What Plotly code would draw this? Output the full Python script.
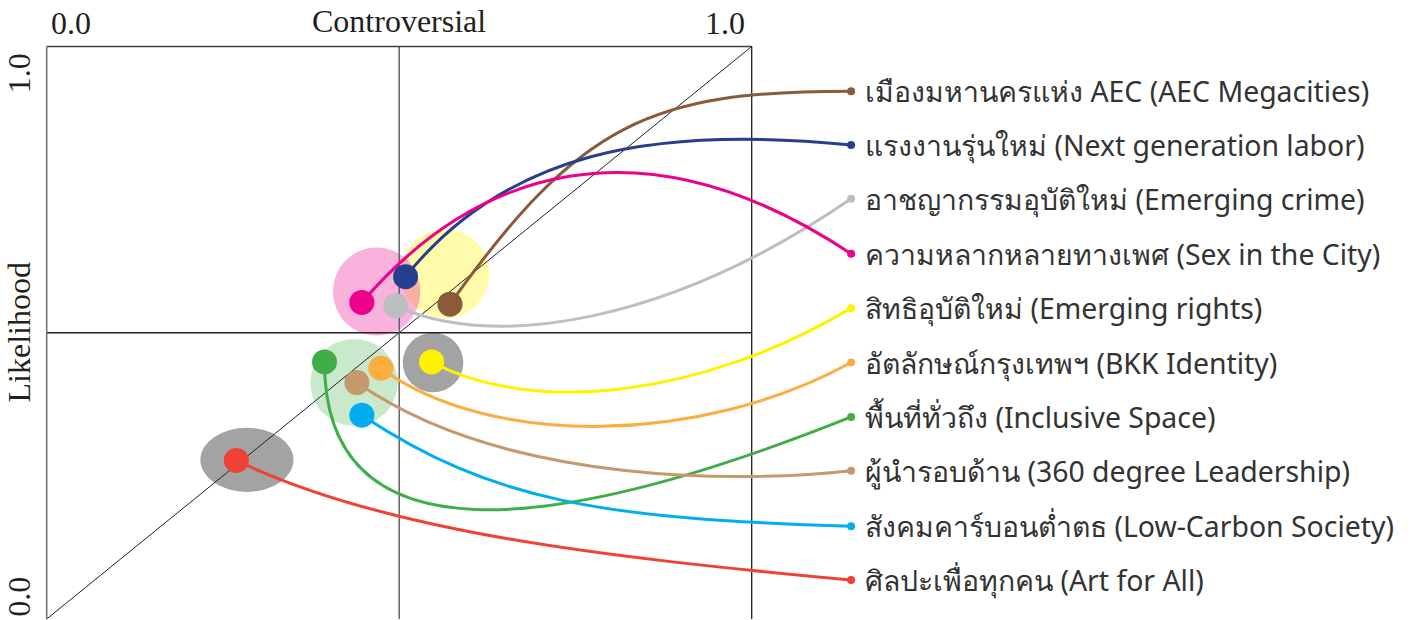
import plotly.graph_objects as go

# ---------------- data ----------------
labels = [
    "เมืองมหานครแห่ง AEC (AEC Megacities)",
    "แรงงานรุ่นใหม่ (Next generation labor)",
    "อาชญากรรมอุบัติใหม่ (Emerging crime)",
    "ความหลากหลายทางเพศ (Sex in the City)",
    "สิทธิอุบัติใหม่ (Emerging rights)",
    "อัตลักษณ์กรุงเทพฯ (BKK Identity)",
    "พื้นที่ทั่วถึง (Inclusive Space)",
    "ผู้นำรอบด้าน (360 degree Leadership)",
    "สังคมคาร์บอนต่ำตธ (Low-Carbon Society)",
    "ศิลปะเพื่อทุกคน (Art for All)",
]
controversial = [0.572, 0.509, 0.495, 0.447, 0.546, 0.474, 0.394, 0.440, 0.447, 0.269]
likelihood = [0.550, 0.598, 0.547, 0.553, 0.449, 0.438, 0.449, 0.413, 0.356, 0.277]

# label anchor points (right-hand list), in chart units
label_x = 1.141
label_y = [0.922, 0.828, 0.734, 0.638, 0.543, 0.448, 0.353, 0.259, 0.162, 0.068]

colors = ["#8a5a3b", "#263f8f", "#bcbec0", "#ec008c", "#fff200",
          "#fbad3f", "#3fae49", "#c4996c", "#00aeef", "#ef4136"]

# connector bends: first control offset (from point), second (from label)
c1 = [(0.184, 0.318), (0.142, 0.217), (0.142, -0.080), (0.160, 0.229), (0.142, -0.093),
      (0.156, -0.140), (0.000, -0.349), (0.213, -0.183), (0.184, -0.150), (0.213, -0.126)]
c2 = [(-0.284, 0.000), (-0.284, 0.035), (-0.255, -0.215), (-0.300, 0.245), (-0.213, -0.157),
      (-0.213, -0.144), (-0.426, -0.210), (-0.142, -0.020), (-0.355, 0.013), (-0.355, 0.041)]

# group halos (centre, radii in chart units)
halo_cx = [0.284, 0.436, 0.548, 0.565, 0.468]
halo_cy = [0.278, 0.413, 0.448, 0.603, 0.572]
halo_rx = [0.066, 0.062, 0.043, 0.063, 0.062]
halo_ry = [0.056, 0.076, 0.052, 0.078, 0.077]
halo_color = ["#a3a3a3", "rgba(63,174,73,0.28)", "#a3a3a3",
              "rgba(255,242,0,0.33)", "rgba(236,0,140,0.30)"]

# ---------------- layout geometry ----------------
W, H = 1412, 620
PX_X, PX_Y = 705.0, 572.5     # pixels per unit
X0PX, Y0PX = 46.7, 619.0      # pixel of (0,0)
xr = [-X0PX / PX_X, (W - X0PX) / PX_X]
yr = [-(H - Y0PX) / PX_Y, Y0PX / PX_Y]

shapes = []
for cx, cy, rx, ry, col in zip(halo_cx, halo_cy, halo_rx, halo_ry, halo_color):
    shapes.append(dict(type="circle", xref="x", yref="y", x0=cx - rx, x1=cx + rx,
                       y0=cy - ry, y1=cy + ry, fillcolor=col, line=dict(width=0),
                       layer="below"))

frame = "#231f20"
shapes += [
    dict(type="line", x0=0, y0=0, x1=1, y1=1, line=dict(color=frame, width=1)),
    dict(type="line", x0=0, y0=0.5, x1=1, y1=0.5, line=dict(color=frame, width=1.3)),
    dict(type="line", x0=0.5, y0=0, x1=0.5, y1=1, line=dict(color="#58595b", width=1.4)),
    dict(type="line", x0=0, y0=1, x1=1, y1=1, line=dict(color="#414042", width=1.3)),
    dict(type="line", x0=1, y0=0, x1=1, y1=1, line=dict(color=frame, width=1.3)),
    dict(type="line", x0=0, y0=0, x1=0, y1=1, line=dict(color="#6d6e71", width=1.5)),
]
for s in shapes[len(halo_cx):]:
    s.update(xref="x", yref="y", layer="below")

for i in range(len(labels)):
    x0, y0 = controversial[i], likelihood[i]
    x3, y3 = label_x, label_y[i]
    p = (f"M {x0},{y0} C {x0 + c1[i][0]},{y0 + c1[i][1]} "
         f"{x3 + c2[i][0]},{y3 + c2[i][1]} {x3},{y3}")
    shapes.append(dict(type="path", path=p, xref="x", yref="y", layer="below",
                       line=dict(color=colors[i], width=3)))

fig = go.Figure()
fig.add_trace(go.Scatter(x=[label_x] * len(labels), y=label_y, mode="markers",
                         marker=dict(size=8, color=colors), hoverinfo="skip"))
fig.add_trace(go.Scatter(x=controversial, y=likelihood, mode="markers",
                         marker=dict(size=25, color=colors), text=labels,
                         hoverinfo="text"))

serif = "Liberation Serif"
txt = "#231f20"
ann = [
    dict(x=0.5, y=1.0, yshift=26, text="Controversial", xanchor="center", yanchor="middle",
         font=dict(family=serif, size=32, color=txt)),
    dict(x=0.0, y=1.0, yshift=24, xshift=2, text="0.0", xanchor="left", yanchor="middle",
         font=dict(family=serif, size=32, color=txt)),
    dict(x=1.0, y=1.0, yshift=24, xshift=-5, text="1.0", xanchor="right", yanchor="middle",
         font=dict(family=serif, size=32, color=txt)),
    dict(x=0.0, xshift=-28, y=1.0, yshift=-5, text="1.0", textangle=-90, xanchor="center",
         yanchor="top", font=dict(family=serif, size=32, color=txt)),
    dict(x=0.0, xshift=-28, y=0.0, text="0.0", textangle=-90, xanchor="center",
         yanchor="bottom", font=dict(family=serif, size=32, color=txt)),
    dict(x=0.0, xshift=-28, y=0.5, text="Likelihood", textangle=-90, xanchor="center",
         yanchor="middle", font=dict(family=serif, size=32, color=txt)),
]
for lab, ly in zip(labels, label_y):
    ann.append(dict(x=label_x, y=ly, xshift=12, text=lab, xanchor="left", yanchor="middle",
                    font=dict(family="Noto Sans, sans-serif", size=28.4, color="#333333")))
for a in ann:
    a.update(xref="x", yref="y", showarrow=False)

fig.update_layout(
    width=W, height=H, autosize=False,
    margin=dict(l=0, r=0, t=0, b=0, pad=0),
    paper_bgcolor="white", plot_bgcolor="white",
    showlegend=False,
    xaxis=dict(range=xr, visible=False, fixedrange=True),
    yaxis=dict(range=yr, visible=False, fixedrange=True),
    shapes=shapes, annotations=ann,
)
fig.write_html("out.html", config={"displayModeBar": False},
               post_script="document.body.style.margin='0';")
